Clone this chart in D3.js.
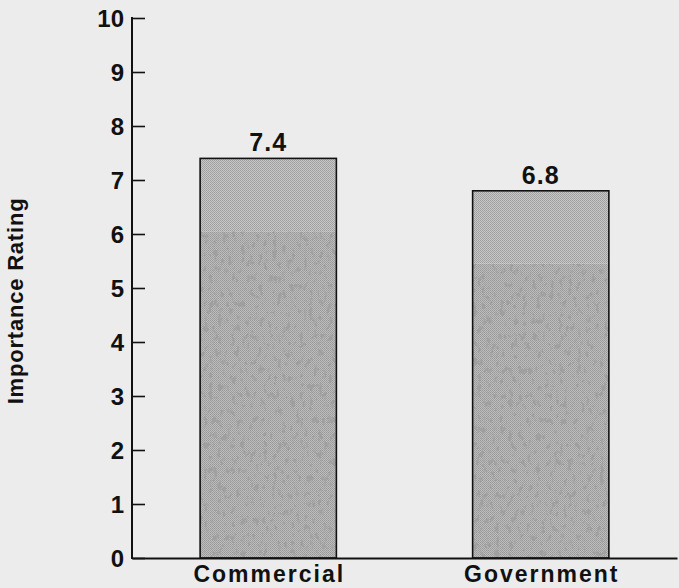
<!DOCTYPE html>
<html>
<head>
<meta charset="utf-8">
<script src="https://cdn.jsdelivr.net/npm/d3@7"></script>
<style>
  html, body { margin: 0; padding: 0; background: #ececec; }
  svg { display: block; }
  text { font-family: "Liberation Sans", Arial, Helvetica, sans-serif; font-weight: bold; fill: #111; }
</style>
</head>
<body>
<svg id="chart" width="679" height="588"></svg>
<script>
// Ratings by sector
const categories = ["Commercial", "Government"];
const ratings = [7.4, 6.8];
const valueLabels = ["7.4", "6.8"];
const yTicks = [0, 1, 2, 3, 4, 5, 6, 7, 8, 9, 10];
const yTitle = "Importance Rating";

const W = 679, H = 588;
const margin = { top: 18, right: 2, bottom: 30, left: 132 };

const svg = d3.select("#chart");
svg.append("rect").attr("width", W).attr("height", H).attr("fill", "#ececec");

// Halftone-style textures for the bar fills
const defs = svg.append("defs");

const light = defs.append("pattern")
  .attr("id", "dotsLight").attr("patternUnits", "userSpaceOnUse")
  .attr("width", 2).attr("height", 2);
light.append("rect").attr("width", 2).attr("height", 2).attr("fill", "#c8c8c8");
light.append("rect").attr("width", 1).attr("height", 1).attr("fill", "#9c9c9c");
light.append("rect").attr("x", 1).attr("y", 1).attr("width", 1).attr("height", 1).attr("fill", "#a4a4a4");

const dark = defs.append("pattern")
  .attr("id", "dotsDark").attr("patternUnits", "userSpaceOnUse")
  .attr("width", 2).attr("height", 2);
dark.append("rect").attr("width", 2).attr("height", 2).attr("fill", "#bdbdbd");
dark.append("rect").attr("width", 1).attr("height", 1).attr("fill", "#979797");
dark.append("rect").attr("x", 1).attr("y", 1).attr("width", 1).attr("height", 1).attr("fill", "#a0a0a0");

// fine dark speckles scattered over the lower body
const mottle = defs.append("filter").attr("id", "mottle")
  .attr("x", 0).attr("y", 0).attr("width", 1).attr("height", 1);
mottle.append("feTurbulence").attr("type", "fractalNoise")
  .attr("baseFrequency", "0.22 0.12").attr("numOctaves", 3).attr("seed", 11).attr("result", "n");
mottle.append("feColorMatrix").attr("in", "n").attr("type", "matrix")
  .attr("values", "0 0 0 0 0.35  0 0 0 0 0.35  0 0 0 0 0.35  -7 0 0 0 3.0")
  .attr("result", "speck");
mottle.append("feComposite").attr("in", "speck").attr("in2", "SourceGraphic").attr("operator", "in");

const x = d3.scaleBand()
  .domain(categories)
  .range([margin.left, W - margin.right])
  .paddingInner(0.5)
  .paddingOuter(0.25);

const y = d3.scaleLinear()
  .domain([0, 10])
  .range([H - margin.bottom, margin.top]);

const data = categories.map((c, i) => ({ cat: c, v: ratings[i], label: valueLabels[i] }));
const lightBand = 1.35; // rating units of lighter shading at the top of each bar

const bars = svg.append("g");

// darker, speckled body
bars.selectAll("rect.body").data(data).join("rect")
  .attr("class", "body")
  .attr("x", d => x(d.cat)).attr("width", x.bandwidth())
  .attr("y", d => y(d.v - lightBand)).attr("height", d => y(0) - y(d.v - lightBand))
  .attr("fill", "url(#dotsDark)");
bars.selectAll("rect.speck").data(data).join("rect")
  .attr("class", "speck")
  .attr("x", d => x(d.cat)).attr("width", x.bandwidth())
  .attr("y", d => y(d.v - lightBand)).attr("height", d => y(0) - y(d.v - lightBand))
  .attr("fill", "#000").attr("filter", "url(#mottle)");

// lighter top band
bars.selectAll("rect.top").data(data).join("rect")
  .attr("class", "top")
  .attr("x", d => x(d.cat)).attr("width", x.bandwidth())
  .attr("y", d => y(d.v)).attr("height", d => y(d.v - lightBand) - y(d.v))
  .attr("fill", "url(#dotsLight)");

// outline
bars.selectAll("rect.outline").data(data).join("rect")
  .attr("class", "outline")
  .attr("x", d => x(d.cat)).attr("width", x.bandwidth())
  .attr("y", d => y(d.v)).attr("height", d => y(0) - y(d.v))
  .attr("fill", "none").attr("stroke", "#111").attr("stroke-width", 1.6);

// value labels
svg.append("g").selectAll("text").data(data).join("text")
  .attr("x", d => x(d.cat) + x.bandwidth() / 2)
  .attr("y", d => y(d.v) - 7)
  .attr("text-anchor", "middle")
  .attr("font-size", 25)
  .style("letter-spacing", "1px")
  .text(d => d.label);

// y axis: ticks point inward
const yAxis = d3.axisRight(y).tickValues(yTicks).tickSize(13).tickFormat("");
const gy = svg.append("g").attr("transform", `translate(${margin.left},0)`).call(yAxis);
gy.select(".domain").remove();
gy.selectAll(".tick line").attr("stroke", "#111").attr("stroke-width", 1.6);
gy.append("line")
  .attr("x1", 0).attr("x2", 0).attr("y1", y(10) - 1).attr("y2", y(0) + 1)
  .attr("stroke", "#111").attr("stroke-width", 2);

svg.append("g").selectAll("text").data(yTicks).join("text")
  .attr("x", margin.left - 8)
  .attr("y", d => y(d))
  .attr("dy", "0.36em")
  .attr("text-anchor", "end")
  .attr("font-size", 24)
  .text(d => d);

// baseline
const xAxis = d3.axisBottom(x).tickSize(0).tickFormat("");
const gx = svg.append("g").attr("transform", `translate(0,${y(0)})`).call(xAxis);
gx.select(".domain").attr("stroke", "#111").attr("stroke-width", 2);

// category labels
svg.append("g").selectAll("text").data(categories).join("text")
  .attr("x", d => x(d) + x.bandwidth() / 2 + 1)
  .attr("y", y(0) + 24)
  .attr("text-anchor", "middle")
  .attr("font-size", 23)
  .style("letter-spacing", "2px")
  .text(d => d);

// y title
svg.append("text")
  .attr("transform", `translate(23,${(y(0) + y(10)) / 2 + 13}) rotate(-90)`)
  .attr("text-anchor", "middle")
  .attr("font-size", 22)
  .style("letter-spacing", "0.8px")
  .text(yTitle);
</script>
</body>
</html>
